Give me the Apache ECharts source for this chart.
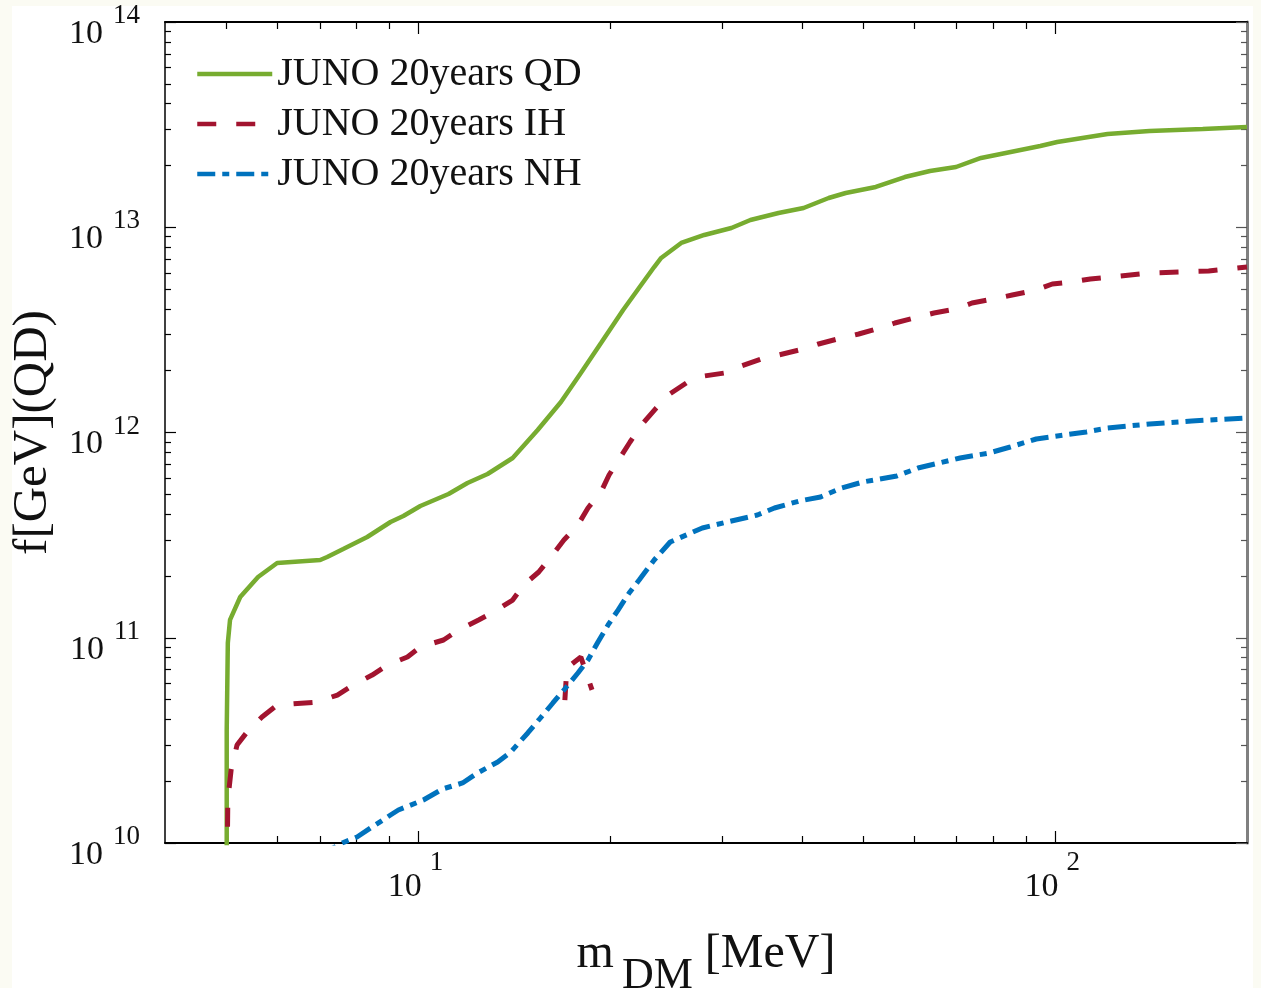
<!DOCTYPE html>
<html>
<head>
<meta charset="utf-8">
<title>JUNO 20 years f vs m_DM</title>
<script src="https://cdn.jsdelivr.net/npm/echarts@6/dist/echarts.min.js"></script>
<style>
  html, body { margin: 0; padding: 0; background: #fbfbf3; }
  #paper { position: absolute; left: 12px; top: 6px; width: 1241px; height: 982px; background: #ffffff; }
  #chart { position: absolute; left: 0; top: 0; width: 1261px; height: 988px; }
</style>
</head>
<body>
<div id="paper"></div>
<div id="chart"></div>
<script>
// values: mass in MeV, f in GeV
let qdMass = [5.00, 5.00, 5.02, 5.06, 5.25, 5.60, 6.00, 7.01, 7.19, 7.62, 8.31, 9.04, 9.47, 10.07,
  11.15, 11.94, 12.84, 14.06, 15.39, 16.74, 17.99, 19.35, 20.96, 22.37, 23.45, 24.05, 25.86, 28.11,
  31.00, 33.21, 36.76, 40.25, 44.07, 46.87, 52.26, 58.04, 63.56, 69.84, 76.45, 94.71, 100.7, 120.8,
  140.6, 170.4, 200];
let qdF = [1e9, 3.55e10, 9.43e10, 1.221e11, 1.579e11, 1.977e11, 2.313e11, 2.392e11, 2.474e11, 2.707e11,
  3.097e11, 3.664e11, 3.920e11, 4.385e11, 5.017e11, 5.675e11, 6.278e11, 7.511e11, 1.029e12, 1.408e12,
  1.949e12, 2.730e12, 3.954e12, 5.231e12, 6.402e12, 7.084e12, 8.381e12, 9.170e12, 9.915e12, 1.085e13,
  1.173e13, 1.241e13, 1.388e13, 1.469e13, 1.571e13, 1.757e13, 1.879e13, 1.966e13, 2.175e13, 2.488e13,
  2.602e13, 2.847e13, 2.944e13, 3.010e13, 3.079e13];

let ihMass = [5.00, 5.02, 5.08, 5.19, 5.38, 5.68, 6.00, 6.93, 7.46, 7.90, 8.46, 8.94, 9.61, 10.07,
  10.95, 11.56, 12.43, 13.13, 14.06, 14.63, 15.45, 16.14, 16.92, 17.80, 18.46, 19.35, 19.92, 21.49,
  22.53, 23.62, 24.67, 26.34, 28.11, 30.22, 32.14, 34.56, 36.76, 40.25, 42.49, 45.53, 49.13, 53.03,
  55.98, 60.86, 64.49, 69.84, 73.99, 79.88, 85.58, 93.35, 98.92, 106.0, 113.5, 122.5, 140.6, 174.1, 200];
let ihF = [5e9, 1.62e10, 2.27e10, 3.00e10, 3.47e10, 4.11e10, 4.70e10, 4.86e10, 5.26e10, 5.89e10,
  6.58e10, 7.37e10, 8.06e10, 9.02e10, 9.75e10, 1.091e11, 1.221e11, 1.335e11, 1.527e11, 1.807e11,
  2.091e11, 2.474e11, 2.995e11, 3.543e11, 4.288e11, 5.130e11, 6.21e11, 8.99e11, 1.112e12, 1.316e12,
  1.523e12, 1.743e12, 1.885e12, 1.949e12, 2.109e12, 2.281e12, 2.386e12, 2.552e12, 2.699e12, 2.855e12,
  3.019e12, 3.229e12, 3.416e12, 3.653e12, 3.821e12, 3.996e12, 4.274e12, 4.470e12, 4.676e12, 4.946e12,
  5.290e12, 5.410e12, 5.595e12, 5.722e12, 5.984e12, 6.120e12, 6.402e12];

// small stray piece of the IH curve near 17-19 MeV
let ihStrayMass = [16.98, 17.10, 17.99, 18.73];
let ihStrayF = [4.97e10, 7.12e10, 8.06e10, 5.57e10];

let nhMass = [7.01, 7.59, 8.01, 8.46, 9.04, 9.30, 10.18, 10.91, 11.73, 12.38, 13.32, 13.96, 14.85,
  15.45, 16.26, 16.92, 17.80, 18.46, 19.14, 19.85, 20.58, 21.42, 22.21, 23.45, 24.85, 27.91, 30.55,
  34.06, 36.23, 39.67, 42.80, 46.19, 49.86, 56.39, 60.86, 65.67, 70.87, 78.71, 84.97, 93.35, 100.7,
  111.9, 120.8, 140.6, 163.8, 200];
let nhF = [8.74e9, 1.0e10, 1.07e10, 1.197e10, 1.369e10, 1.448e10, 1.620e10, 1.833e10, 1.961e10,
  2.193e10, 2.481e10, 2.776e10, 3.436e10, 3.975e10, 4.810e10, 5.565e10, 6.733e10, 7.792e10, 9.535e10,
  1.154e11, 1.365e11, 1.652e11, 1.911e11, 2.392e11, 2.928e11, 3.425e11, 3.664e11, 3.963e11, 4.288e11,
  4.638e11, 4.852e11, 5.366e11, 5.739e11, 6.140e11, 6.714e11, 7.101e11, 7.511e11, 7.945e11, 8.500e11,
  9.297e11, 9.614e11, 1.006e12, 1.052e12, 1.100e12, 1.138e12, 1.177e12];

let seriesNames = ['JUNO 20years QD', 'JUNO 20years IH', 'JUNO 20years NH'];

// tick values
let xMajor = [10, 100];
let xMinor = [5, 6, 7, 8, 9, 20, 30, 40, 50, 60, 70, 80, 90];
let yMajor = [1e10, 1e11, 1e12, 1e13, 1e14];
let yMinor = [];
for (let d = 10; d < 14; d++) {
  for (let k = 2; k <= 9; k++) yMinor.push(k * Math.pow(10, d));
}

let serif = 'Liberation Serif';
let ink = '#111111';

function pairs(xs, ys) {
  let out = [];
  for (let i = 0; i < xs.length; i++) out.push([xs[i], ys[i]]);
  return out;
}

function expo(v) {
  return Math.round(Math.log10(v));
}

function xAxisDef(pos, values, len, lineShow, labelShow) {
  return {
    type: 'log', logBase: 10, min: 4, max: 200, position: pos,
    axisLine: { show: lineShow, lineStyle: { color: '#000', width: 2 } },
    axisTick: { show: true, inside: true, length: len, customValues: values,
      lineStyle: { color: '#000', width: 1.2 } },
    axisLabel: { show: labelShow, customValues: xMajor, margin: 15,
      formatter: function (v) { return '{b|10}{s|' + expo(v) + '}'; },
      rich: {
        b: { fontFamily: serif, fontSize: 34, lineHeight: 34, color: ink, padding: [24, 0, 0, 0] },
        s: { fontFamily: serif, fontSize: 27, lineHeight: 27, color: ink, padding: [0, 6, 24, 8] }
      } },
    splitLine: { show: false },
    minorTick: { show: false }
  };
}

function yAxisDef(pos, values, len, lineShow, labelShow, lineColor, lineWidth) {
  return {
    type: 'log', logBase: 10, min: 1e10, max: 1e14, position: pos,
    axisLine: { show: lineShow, lineStyle: { color: lineColor, width: lineWidth } },
    axisTick: { show: true, inside: true, length: len, customValues: values,
      lineStyle: { color: lineColor === '#000' ? '#000' : '#555', width: 1.2 } },
    axisLabel: { show: labelShow, customValues: yMajor, margin: 25,
      formatter: function (v) { return '{b|10}{s|' + expo(v) + '}'; },
      rich: {
        b: { fontFamily: serif, fontSize: 34, lineHeight: 34, color: ink, padding: [24, 0, 0, 0] },
        s: { fontFamily: serif, fontSize: 27, lineHeight: 27, color: ink, padding: [0, 0, 12, 10] }
      } },
    splitLine: { show: false },
    minorTick: { show: false }
  };
}

let chart = echarts.init(document.getElementById('chart'), null, { renderer: 'canvas' });

let bottomMain = xAxisDef('bottom', xMajor, 12, true, true);
bottomMain.name = '{m|m}{d|DM}{u|[MeV]}';
bottomMain.nameLocation = 'middle';
bottomMain.nameGap = 64;
bottomMain.nameTextStyle = {
  rich: {
    m: { fontFamily: serif, fontSize: 48, lineHeight: 48, color: ink },
    d: { fontFamily: serif, fontSize: 44, lineHeight: 44, color: ink, padding: [46, 12, 0, 8] },
    u: { fontFamily: serif, fontSize: 48, lineHeight: 48, color: ink }
  }
};

let leftMain = yAxisDef('left', yMajor, 11, true, true, '#000', 1.5);
leftMain.name = 'f[GeV](QD)';
leftMain.nameLocation = 'middle';
leftMain.nameRotate = 90;
leftMain.nameGap = 98;
leftMain.nameTextStyle = { fontFamily: serif, fontSize: 49, color: ink };

let option = {
  backgroundColor: 'transparent',
  animation: false,
  grid: { left: 165, right: 14, top: 22, bottom: 145, containLabel: false, outerBoundsMode: 'none' },
  legend: {
    data: seriesNames,
    orient: 'vertical',
    left: 195, top: 54, padding: 0,
    itemWidth: 75, itemHeight: 14, itemGap: 10,
    selectedMode: false,
    itemStyle: { opacity: 0 },
    lineStyle: { width: 4.5 },
    textStyle: { fontFamily: serif, fontSize: 40, lineHeight: 40, color: ink }
  },
  xAxis: [
    bottomMain,
    xAxisDef('bottom', xMinor, 7, false, false),
    xAxisDef('top', xMajor, 12, true, false),
    xAxisDef('top', xMinor, 7, false, false)
  ],
  yAxis: [
    leftMain,
    yAxisDef('left', yMinor, 6, false, false, '#000', 1.5),
    yAxisDef('right', yMajor, 11, true, false, '#808080', 3),
    yAxisDef('right', yMinor, 6, false, false, '#808080', 3)
  ],
  series: [
    {
      name: seriesNames[0], type: 'line', data: pairs(qdMass, qdF),
      symbol: 'none', silent: true, clip: true,
      lineStyle: { color: '#77AC30', width: 4.5 }, itemStyle: { color: '#77AC30' }
    },
    {
      name: seriesNames[1], type: 'line', data: pairs(ihMass, ihF),
      symbol: 'none', silent: true, clip: true,
      lineStyle: { color: '#A2142F', width: 5, type: [19, 20] }, itemStyle: { color: '#A2142F' }
    },
    {
      type: 'line', data: pairs(ihStrayMass, ihStrayF),
      symbol: 'none', silent: true, clip: true,
      lineStyle: { color: '#A2142F', width: 5, type: [19, 20] }
    },
    {
      name: seriesNames[2], type: 'line', data: pairs(nhMass, nhF),
      symbol: 'none', silent: true, clip: true,
      lineStyle: { color: '#0072BD', width: 5, type: [18, 7, 7, 7] }, itemStyle: { color: '#0072BD' }
    }
  ]
};

chart.setOption(option);
</script>
</body>
</html>
